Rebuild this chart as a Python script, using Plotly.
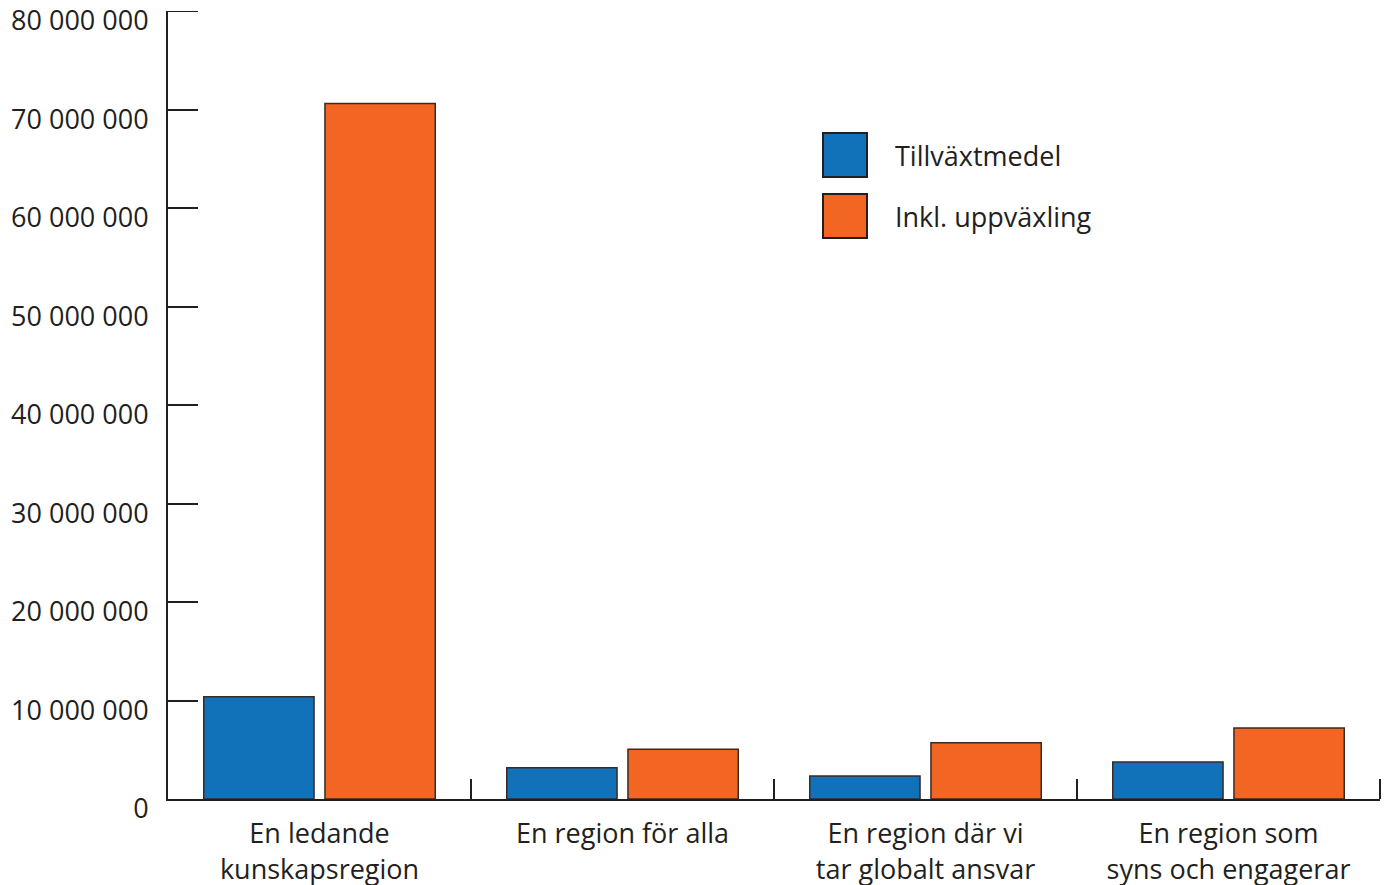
import plotly.graph_objects as go

categories = [
    "En ledande<br>kunskapsregion",
    "En region för alla",
    "En region där vi<br>tar globalt ansvar",
    "En region som<br>syns och engagerar",
]
tillvaxtmedel = [10_390_000, 3_180_000, 2_340_000, 3_760_000]
inkl_uppvaxling = [70_600_000, 5_050_000, 5_720_000, 7_210_000]
series_names = ["Tillväxtmedel", "Inkl. uppväxling"]
y_ticks = [0, 10_000_000, 20_000_000, 30_000_000, 40_000_000,
           50_000_000, 60_000_000, 70_000_000, 80_000_000]
y_tick_text = ["0", "10 000 000", "20 000 000", "30 000 000", "40 000 000",
               "50 000 000", "60 000 000", "70 000 000", "80 000 000"]
Y_MAX = 80_000_000

BLUE = "#1172BA"
ORANGE = "#F26522"
INK = "#231F20"
FONT = "Open Sans"
FS = 27

# plot area in pixels
L, R, T, B = 168, 12, 11, 86
PW = 1392 - L - R
PH = 885 - T - B

fig = go.Figure()
for name, vals, col in [(series_names[0], tillvaxtmedel, BLUE),
                        (series_names[1], inkl_uppvaxling, ORANGE)]:
    fig.add_trace(go.Bar(
        x=categories, y=vals, name=name,
        marker=dict(color=col, line=dict(color="#3a2a25", width=1.5)),
        showlegend=False,
    ))

fig.update_layout(
    width=1392, height=885,
    margin=dict(l=L, r=R, t=T, b=B),
    paper_bgcolor="white", plot_bgcolor="white",
    barmode="group", bargap=0.2, bargroupgap=0.09,
    font=dict(family=FONT, size=FS, color=INK),
)
fig.update_yaxes(
    range=[0, Y_MAX], tickvals=y_ticks, ticktext=y_tick_text,
    automargin=False, showgrid=False, zeroline=False,
    showline=True, linecolor=INK, linewidth=2,
    ticks="inside", ticklen=30, tickwidth=2, tickcolor=INK,
    ticklabelshift=10, ticklabelstandoff=12, ticklabeloverflow="allow",
    tickfont=dict(family=FONT, size=FS, color=INK),
)
fig.update_xaxes(
    automargin=False, showgrid=False, zeroline=False,
    showline=True, linecolor=INK, linewidth=2,
    ticks="inside", ticklen=20, tickwidth=2, tickcolor=INK,
    tickson="boundaries", ticklabelstandoff=10, ticklabeloverflow="allow",
    tickfont=dict(family=FONT, size=FS, color=INK),
)

# tick marks at the outer ends of the axes
fig.add_shape(type="line", xref="paper", yref="y",
              x0=0, x1=30 / PW, y0=Y_MAX, y1=Y_MAX,
              line=dict(color=INK, width=2))
fig.add_shape(type="line", xref="paper", yref="paper",
              x0=1, x1=1, y0=0, y1=20 / PH,
              line=dict(color=INK, width=2))

# legend swatches and labels
legend_rows = [(series_names[0], BLUE, 133), (series_names[1], ORANGE, 194)]
for name, col, top in legend_rows:
    y_top = 1 - (top - T) / PH
    y_bot = 1 - (top + 44 - T) / PH
    fig.add_shape(type="rect", xref="paper", yref="paper",
                  x0=(823 - L) / PW, x1=(867 - L) / PW, y0=y_bot, y1=y_top,
                  fillcolor=col, line=dict(color=INK, width=2))
    fig.add_annotation(xref="paper", yref="paper",
                       x=(893 - L) / PW, y=1 - (top + 22 - T) / PH,
                       text=name, showarrow=False, xanchor="left", yanchor="middle",
                       font=dict(family=FONT, size=FS, color=INK))

fig.write_html("out.html")
